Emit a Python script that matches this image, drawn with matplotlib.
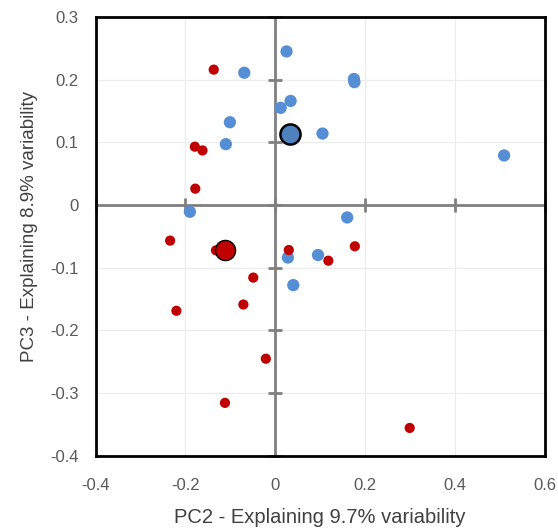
import matplotlib.pyplot as plt

plt.rcParams['font.family'] = ['Liberation Sans', 'DejaVu Sans']

# group 1 (blue) scores
blue_pc2 = [0.025, -0.069, 0.175, 0.176, 0.034, 0.012, -0.101, 0.105, -0.110,
            0.509, -0.190, 0.160, 0.028, 0.095, 0.040]
blue_pc3 = [0.245, 0.211, 0.201, 0.196, 0.166, 0.155, 0.132, 0.114, 0.097,
            0.079, -0.011, -0.020, -0.084, -0.080, -0.128]
# group 2 (red) scores
red_pc2 = [-0.137, -0.179, -0.162, -0.178, -0.234, -0.132, 0.030, 0.177, 0.118,
           -0.049, -0.071, -0.220, -0.021, -0.112, 0.299]
red_pc3 = [0.216, 0.093, 0.087, 0.026, -0.057, -0.0725, -0.072, -0.066, -0.089,
           -0.116, -0.159, -0.169, -0.2455, -0.316, -0.356]
# group centroids
blue_mean = (0.033, 0.114)
red_mean = (-0.113, -0.0725)

xticks = [-0.4, -0.2, 0, 0.2, 0.4, 0.6]
yticks = [-0.4, -0.3, -0.2, -0.1, 0, 0.1, 0.2, 0.3]

fig = plt.figure(figsize=(5.58, 5.29), dpi=100)
ax = fig.add_axes([95.5 / 558, 1 - 455.5 / 529, 449.5 / 558, 438.5 / 529])

ax.set_xlim(-0.4, 0.6)
ax.set_ylim(-0.4, 0.3)
ax.set_xticks(xticks)
ax.set_yticks(yticks)
ax.set_xticklabels(['%g' % t for t in xticks])
ax.set_yticklabels(['%g' % t for t in yticks])
ax.tick_params(length=0, labelsize=12, labelcolor='#595959')
ax.tick_params(axis='x', pad=16)
ax.tick_params(axis='y', pad=12)
ax.grid(color='#ececec', linewidth=0.8)
ax.set_axisbelow(True)
for s in ax.spines.values():
    s.set_linewidth(2)
    s.set_color('black')

# axes through the origin with crossing tick marks
ax.axhline(0, color='#808080', linewidth=2, zorder=1)
ax.axvline(0, color='#808080', linewidth=2, zorder=1)
ax.plot(xticks, [0] * len(xticks), linestyle='none', marker='|', markersize=10,
        markeredgewidth=2, color='#808080', zorder=1, clip_on=False)
ax.plot([0] * len(yticks), yticks, linestyle='none', marker='_', markersize=10,
        markeredgewidth=2, color='#808080', zorder=1, clip_on=False)

ax.scatter(blue_pc2, blue_pc3, s=78, color='#558ed5', edgecolors='none', zorder=3)
ax.scatter(red_pc2, red_pc3, s=54, color='#c00000', edgecolors='none', zorder=4)
ax.scatter([blue_mean[0]], [blue_mean[1]], s=210, color='#4f81bd',
           edgecolors='black', linewidths=1.8, zorder=5)
ax.scatter([red_mean[0]], [red_mean[1]], s=210, color='#c00000',
           edgecolors='black', linewidths=1.0, zorder=5)

ax.set_xlabel('PC2 - Explaining 9.7% variability', fontsize=14.5, color='#404040',
              labelpad=11)
ax.set_ylabel('PC3 - Explaining 8.9% variability', fontsize=13.5, color='#404040',
              labelpad=9)
ax.yaxis.label.set_y(0.523)

fig.savefig('out.png', dpi=100)
